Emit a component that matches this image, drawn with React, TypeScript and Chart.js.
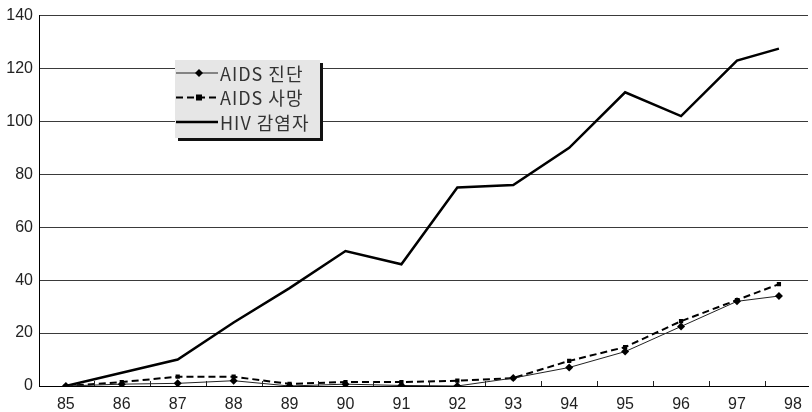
import React, { useEffect, useRef } from "react";
import { Chart, registerables } from "chart.js";

Chart.register(...registerables);

// Year tick labels shown on the x axis
const yearTicks = [85, 86, 87, 88, 89, 90, 91, 92, 93, 94, 95, 96, 97, 98];
// x position (year) of each observation; the last (98) observation sits short of the 98 tick in the source
const years = [85, 86, 87, 88, 89, 90, 91, 92, 93, 94, 95, 96, 97, 97.75];
const aidsDiagnosed = [0, 0.7, 1, 2, 0, 0.7, 0.2, 0, 3, 7, 13, 22.5, 32, 34];
const aidsDeaths = [0, 1.5, 3.5, 3.5, 0.8, 1.5, 1.5, 2, 3, 9.5, 14.7, 24.5, 32.5, 38.5];
const hivInfected = [0, 5, 10, 24, 37, 51, 46, 75, 76, 90, 111, 102, 123, 127.5];
const seriesNames = ["AIDS 진단", "AIDS 사망", "HIV 감염자"];
const yTicks = [0, 20, 40, 60, 80, 100, 120, 140];

const tickFont = { family: "'Liberation Sans Narrow', 'Liberation Sans', sans-serif", size: 16 };

function drawMarker(ctx: CanvasRenderingContext2D, style: string, x: number, y: number, r: number) {
  ctx.beginPath();
  if (style === "rectRot") {
    ctx.moveTo(x, y - r);
    ctx.lineTo(x + r, y);
    ctx.lineTo(x, y + r);
    ctx.lineTo(x - r, y);
    ctx.closePath();
  } else if (style === "rect") {
    ctx.rect(x - r, y - r, 2 * r, 2 * r);
  } else {
    return;
  }
  ctx.fill();
}

const boxLegend = {
  id: "boxLegend",
  afterDatasetsDraw(chart: any) {
    const ctx: any = chart.ctx;
    const L = 175, T = 60, W = 145, H = 78, S = 3;
    ctx.save();
    ctx.fillStyle = "#e6e6e6";
    ctx.fillRect(L, T, W, H);
    ctx.fillStyle = "#111";
    ctx.fillRect(L + W, T + S, S, H);
    ctx.fillRect(L + S, T + H, W, S);
    chart.data.datasets.forEach((ds: any, i: number) => {
      const y = T + 13 + i * 24.5;
      ctx.strokeStyle = ds.borderColor;
      ctx.lineWidth = ds.borderWidth;
      ctx.setLineDash(ds.borderDash || []);
      ctx.beginPath();
      ctx.moveTo(L + 1, y);
      ctx.lineTo(L + 43, y);
      ctx.stroke();
      ctx.setLineDash([]);
      ctx.fillStyle = ds.pointBackgroundColor || "#000";
      if (ds.pointRadius > 0) drawMarker(ctx, ds.pointStyle, L + 24, y, ds.pointRadius);
      ctx.fillStyle = "#333";
      ctx.font = "18px 'Noto Sans CJK KR', sans-serif";
      ctx.letterSpacing = "1px";
      ctx.textBaseline = "middle";
      ctx.textAlign = "left";
      ctx.fillText(ds.label, L + 45, y + 1);
    });
    ctx.restore();
  },
};

const innerTicks = {
  id: "innerTicks",
  afterDatasetsDraw(chart: any) {
    const ctx: CanvasRenderingContext2D = chart.ctx;
    const xs = chart.scales.x;
    const bottom = chart.chartArea.bottom;
    ctx.save();
    ctx.strokeStyle = "#222";
    ctx.lineWidth = 1;
    for (let i = 0; i < yearTicks.length - 1; i++) {
      const px = Math.round(xs.getPixelForValue((yearTicks[i] + yearTicks[i + 1]) / 2)) + 0.5;
      ctx.beginPath();
      ctx.moveTo(px, bottom);
      ctx.lineTo(px, bottom - 5);
      ctx.stroke();
    }
    ctx.restore();
  },
};

export default function App() {
  const ref = useRef<HTMLCanvasElement>(null);
  useEffect(() => {
    if (!ref.current) return;
    const pts = (arr: number[]) => years.map((x, i) => ({ x, y: arr[i] }));
    const chart = new Chart(ref.current, {
      type: "line",
      data: {
        datasets: [
          {
            label: seriesNames[0],
            data: pts(aidsDiagnosed),
            borderColor: "#222",
            borderWidth: 1,
            pointStyle: "rectRot",
            pointRadius: 4,
            pointBackgroundColor: "#000",
            pointBorderWidth: 0,
            tension: 0,
          },
          {
            label: seriesNames[1],
            data: pts(aidsDeaths),
            borderColor: "#000",
            borderWidth: 2,
            borderDash: [7, 4],
            pointStyle: "rect",
            pointRadius: 3,
            pointBackgroundColor: "#000",
            pointBorderWidth: 0,
            tension: 0,
          },
          {
            label: seriesNames[2],
            data: pts(hivInfected),
            borderColor: "#000",
            borderWidth: 2.5,
            pointRadius: 0,
            tension: 0,
          },
        ],
      },
      options: {
        responsive: false,
        animation: false,
        layout: { padding: { top: 14, right: 0, left: 0, bottom: 0 } },
        plugins: { legend: { display: false }, tooltip: { enabled: false } },
        scales: {
          x: {
            type: "linear",
            min: 84.52,
            max: 98.27,
            afterBuildTicks: (s: any) => {
              s.ticks = yearTicks.map((v) => ({ value: v }));
            },
            afterFit: (s: any) => {
              s.height = 26;
            },
            ticks: {
              autoSkip: false,
              maxRotation: 0,
              color: "#222",
              font: tickFont,
              padding: 1,
              callback: (v: any) => String(v),
            },
            grid: { display: false },
            border: { display: true, color: "#000", width: 1 },
          },
          y: {
            min: 0,
            max: 140,
            afterBuildTicks: (s: any) => {
              s.ticks = yTicks.map((v) => ({ value: v }));
            },
            afterFit: (s: any) => {
              s.width = 39;
            },
            ticks: { color: "#222", font: tickFont, padding: 6 },
            grid: { color: "#3a3a3a", lineWidth: 1, drawTicks: false },
            border: { display: true, color: "#000", width: 1 },
          },
        },
      },
      plugins: [boxLegend, innerTicks],
    });
    return () => chart.destroy();
  }, []);
  return (
    <div style={{ position: "fixed", left: 0, top: 0, width: 812, height: 412, background: "#fff" }}>
      <canvas ref={ref} width={812} height={412} style={{ width: 812, height: 412, display: "block" }} />
    </div>
  );
}
